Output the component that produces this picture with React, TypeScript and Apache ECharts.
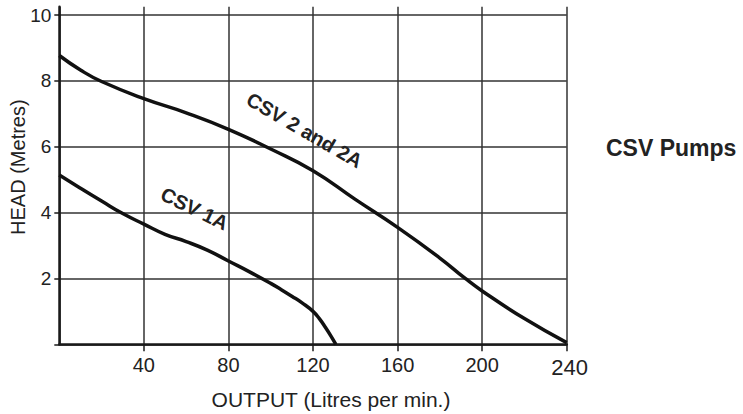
import React, { useEffect, useRef } from "react";
import * as echarts from "echarts";

// Axis ranges / ticks
const xMin = 0;
const xMax = 240;
const xStep = 40;
const yMin = 0;
const yMax = 10;
const yStep = 2;

// CSV 2 and 2A curve (Output l/min, Head m)
const csv2X = [0, 10, 20, 40, 60, 80, 100, 120, 140, 160, 180, 192, 200, 220, 240];
const csv2Y = [8.77, 8.33, 7.98, 7.46, 7.03, 6.53, 5.93, 5.27, 4.4, 3.55, 2.62, 2.0, 1.62, 0.78, 0.05];

// CSV 1A curve
const csv1X = [0, 10, 20, 30, 40, 50, 60, 70, 80, 90, 100, 105, 110, 115, 120, 123, 126, 128.5, 130.8];
const csv1Y = [5.14, 4.74, 4.35, 3.97, 3.65, 3.34, 3.12, 2.86, 2.53, 2.2, 1.85, 1.66, 1.46, 1.25, 1.0, 0.78, 0.5, 0.25, 0.0];

// Curve annotations (data-space anchor + angle in degrees)
const curveLabels = [
  { text: "CSV 2 and 2A", x: 116, y: 6.5, angle: -30 },
  { text: "CSV 1A", x: 64, y: 4.12, angle: -26 },
];

const chartTitle = "CSV Pumps";
const xName = "OUTPUT (Litres per min.)";
const yName = "HEAD (Metres)";

const FONT = "'Liberation Sans', Arial, Helvetica, sans-serif";
const INK = "#1a1a1a";
const GRID = "#333";

export default function App() {
  const ref = useRef<HTMLDivElement>(null);

  useEffect(() => {
    if (!ref.current) return;
    const chart = echarts.init(ref.current, undefined, { renderer: "svg" });

    const pair = (xs: number[], ys: number[]) => xs.map((x, i) => [x, ys[i]]);

    const lineStyleGrid = { color: GRID, width: 1.5 };
    const axisLineStyle = { color: INK, width: 2.5 };

    chart.setOption({
      animation: false,
      backgroundColor: "#fff",
      grid: [
        { left: 59.3, right: 176.3, top: 15, bottom: 69.7, outerBoundsMode: "none", containLabel: false },
        { left: 59.3, right: 176.3, top: 6.7, height: 8.3, outerBoundsMode: "none", containLabel: false },
      ],
      xAxis: [
        {
          type: "value",
          gridIndex: 0,
          min: xMin,
          max: xMax,
          interval: xStep,
          name: xName,
          nameLocation: "middle",
          nameGap: 45,
          nameMoveOverlap: false,
          nameTextStyle: { fontFamily: FONT, fontSize: 21, color: "#222", padding: [0, 0, 0, 36] },
          axisLine: { show: true, lineStyle: axisLineStyle },
          axisTick: { show: true, length: 7, lineStyle: { color: INK, width: 1.5 } },
          axisLabel: {
            margin: 11,
            fontFamily: FONT,
            fontSize: 20,
            color: "#222",
            showMinLabel: false,
            formatter: (v: number) => (v === 0 ? "" : v === xMax ? `{big|${v}}` : `${v}`),
            rich: { big: { fontFamily: FONT, fontSize: 22, color: "#222", padding: [1, 0, 0, 6] } },
          },
          splitLine: { show: true, lineStyle: lineStyleGrid },
        },
        {
          type: "value",
          gridIndex: 1,
          min: xMin,
          max: xMax,
          interval: xStep,
          axisLine: { show: false },
          axisTick: { show: false },
          axisLabel: { show: false },
          splitLine: { show: true, lineStyle: lineStyleGrid },
        },
      ],
      yAxis: [
        {
          type: "value",
          gridIndex: 0,
          min: yMin,
          max: yMax,
          interval: yStep,
          name: yName,
          nameLocation: "middle",
          nameGap: 31,
          nameMoveOverlap: false,
          nameTextStyle: { fontFamily: FONT, fontSize: 20, color: "#222", padding: [0, 0, 0, 25] },
          axisLine: { show: true, lineStyle: axisLineStyle },
          axisTick: { show: true, length: 5, lineStyle: { color: INK, width: 1.5 } },
          axisLabel: {
            margin: 8,
            fontFamily: FONT,
            fontSize: 19,
            color: "#222",
            formatter: (v: number) => (v === 0 ? "" : `${v}`),
          },
          splitLine: { show: true, lineStyle: lineStyleGrid },
        },
        {
          type: "value",
          gridIndex: 1,
          min: 0,
          max: 1,
          axisLine: { show: true, lineStyle: axisLineStyle },
          axisTick: { show: false },
          axisLabel: { show: false },
          splitLine: { show: false },
        },
      ],
      series: [
        {
          name: "CSV 2 and 2A",
          type: "line",
          xAxisIndex: 0,
          yAxisIndex: 0,
          data: pair(csv2X, csv2Y),
          smooth: 0.5,
          showSymbol: false,
          lineStyle: { color: "#111", width: 3.5 },
        },
        {
          name: "CSV 1A",
          type: "line",
          xAxisIndex: 0,
          yAxisIndex: 0,
          data: pair(csv1X, csv1Y),
          smooth: 0.5,
          showSymbol: false,
          lineStyle: { color: "#111", width: 3.5 },
        },
      ],
    });

    const labelEls = curveLabels.map((l) => {
      const p = chart.convertToPixel({ gridIndex: 0 }, [l.x, l.y]) as number[];
      return {
        type: "text",
        x: p[0],
        y: p[1],
        rotation: (l.angle * Math.PI) / 180,
        style: {
          text: l.text,
          fontFamily: FONT,
          fontSize: 20,
          fontWeight: "bold",
          fill: "#222",
          align: "center",
          verticalAlign: "middle",
        },
      };
    });

    chart.setOption({
      graphic: [
        ...labelEls,
        {
          type: "text",
          x: 606,
          y: 148,
          style: {
            text: chartTitle,
            fontFamily: FONT,
            fontSize: 23,
            fontWeight: "bold",
            fill: "#222",
            align: "left",
            verticalAlign: "middle",
          },
        },
      ],
    });

    return () => chart.dispose();
  }, []);

  return (
    <div
      ref={ref}
      style={{ position: "fixed", left: 0, top: 0, width: 743, height: 414, background: "#fff" }}
    />
  );
}
